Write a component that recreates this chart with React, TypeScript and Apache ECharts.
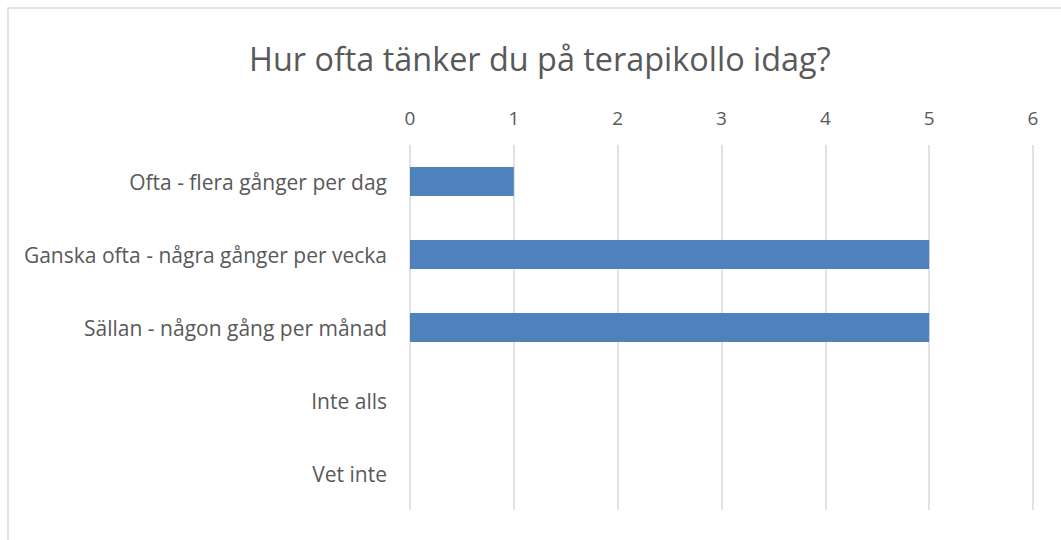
import React, { useEffect, useRef } from "react";
import * as echarts from "echarts";

const categories = [
  "Ofta - flera gånger per dag",
  "Ganska ofta - några gånger per vecka",
  "Sällan - någon gång per månad",
  "Inte alls",
  "Vet inte",
];
const values = [1, 5, 5, 0, 0];
const titleText = "Hur ofta tänker du på terapikollo idag?";

export default function App() {
  const ref = useRef<HTMLDivElement>(null);
  useEffect(() => {
    if (!ref.current) return;
    const chart = echarts.init(ref.current, undefined, { renderer: "svg" });
    const font = "'Open Sans', Lato, sans-serif";
    chart.setOption({
      animation: false,
      backgroundColor: "#ffffff",
      title: {
        text: titleText,
        left: 244,
        top: 37,
        textStyle: { fontFamily: font, fontSize: 32.4, fontWeight: "normal", color: "#595959" },
      },
      graphic: [
        {
          type: "rect",
          shape: { x: 8, y: 8, width: 1100, height: 600 },
          style: { fill: "none", stroke: "#d9d9d9", lineWidth: 1.5 },
          silent: true,
          z: -1,
        },
      ],
      grid: { left: 410, right: 28, top: 145, bottom: 30 },
      xAxis: {
        type: "value",
        position: "top",
        min: 0,
        max: 6,
        interval: 1,
        axisLine: { show: false },
        axisTick: { show: false },
        axisLabel: { fontFamily: font, fontSize: 19, color: "#595959", margin: 18 },
        splitLine: { show: true, lineStyle: { color: "#d9d9d9", width: 1.5 } },
      },
      yAxis: {
        type: "category",
        inverse: true,
        data: categories,
        axisLine: { show: false },
        axisTick: { show: false },
        axisLabel: { fontFamily: font, fontSize: 21, color: "#595959", margin: 23 },
      },
      series: [
        {
          type: "bar",
          data: values,
          barCategoryGap: "60%",
          itemStyle: { color: "#4F81BD" },
        },
      ],
    });
    return () => chart.dispose();
  }, []);
  return <div ref={ref} style={{ position: "absolute", left: 0, top: 0, width: 1061, height: 540 }} />;
}
